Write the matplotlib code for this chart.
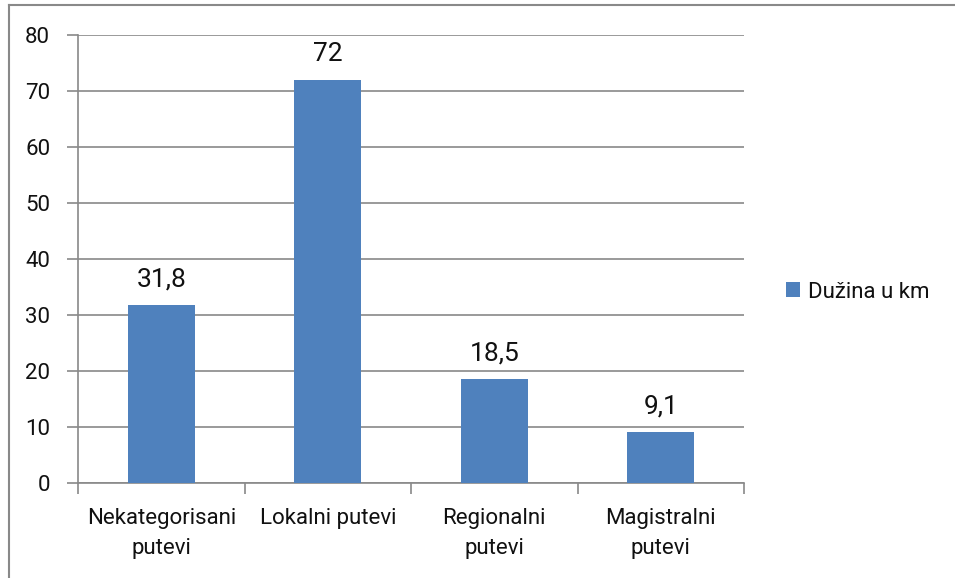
import matplotlib
matplotlib.use("Agg")
import matplotlib.pyplot as plt
from matplotlib.lines import Line2D
from matplotlib.patches import Patch
import numpy as np

categories = ["Nekategorisani\nputevi", "Lokalni putevi", "Regionalni\nputevi", "Magistralni\nputevi"]
values = [31.8, 72, 18.5, 9.1]
value_labels = ["31,8", "72", "18,5", "9,1"]
series_name = "Dužina u km"
yticks = [0, 10, 20, 30, 40, 50, 60, 70, 80]

plt.rcParams['font.family'] = ['Roboto', 'DejaVu Sans']

W, H = 955, 578
fig = plt.figure(figsize=(W/100, H/100), dpi=100)
ax = fig.add_axes([78/W, 1-483/H, (744-78)/W, (483-35)/H])

gray = "#898989"
bar_color = "#4F81BD"
text_color = "#111111"
x = np.arange(len(categories))
bars = ax.bar(x, values, width=0.4, color=bar_color, zorder=3)

ax.set_xlim(-0.5, len(categories)-0.5)
ax.set_ylim(0, 80)
ax.set_yticks(yticks)
ax.set_yticklabels([str(t) for t in yticks], fontsize=16, color=text_color)
ax.yaxis.grid(True, color=gray, linewidth=1.2, zorder=0)
ax.tick_params(axis='y', length=8, width=1.2, color=gray, pad=12)

ax.set_xticks(x)
ax.set_xticklabels(categories, fontsize=16, linespacing=1.55, color=text_color)
ax.tick_params(axis='x', which='major', length=0, pad=18)
ax.set_xticks(np.arange(len(categories)+1)-0.5, minor=True)
ax.tick_params(axis='x', which='minor', length=8, width=1.2, color=gray)

for s in ['top', 'right']:
    ax.spines[s].set_visible(False)
for s in ['left', 'bottom']:
    ax.spines[s].set_color(gray)
    ax.spines[s].set_linewidth(1.2)

for b, lab in zip(bars, value_labels):
    ax.annotate(lab, (b.get_x()+b.get_width()/2, b.get_height()),
                xytext=(0, 10), textcoords='offset points',
                ha='center', va='bottom', fontsize=19, color=text_color)

leg = fig.legend(handles=[Patch(facecolor=bar_color, label=series_name)],
                 loc='center left', bbox_to_anchor=(786/W, 1-292/H),
                 frameon=False, fontsize=16, handlelength=0.65, handleheight=0.65,
                 handletextpad=0.35, borderaxespad=0, borderpad=0,
                 labelcolor=text_color)

fig.add_artist(Line2D([9/W, 9/W], [0, 1-5/H], color=gray, linewidth=1.5, transform=fig.transFigure))
fig.add_artist(Line2D([9/W, 1], [1-5/H, 1-5/H], color=gray, linewidth=1.5, transform=fig.transFigure))

fig.savefig("out.png", dpi=100)
